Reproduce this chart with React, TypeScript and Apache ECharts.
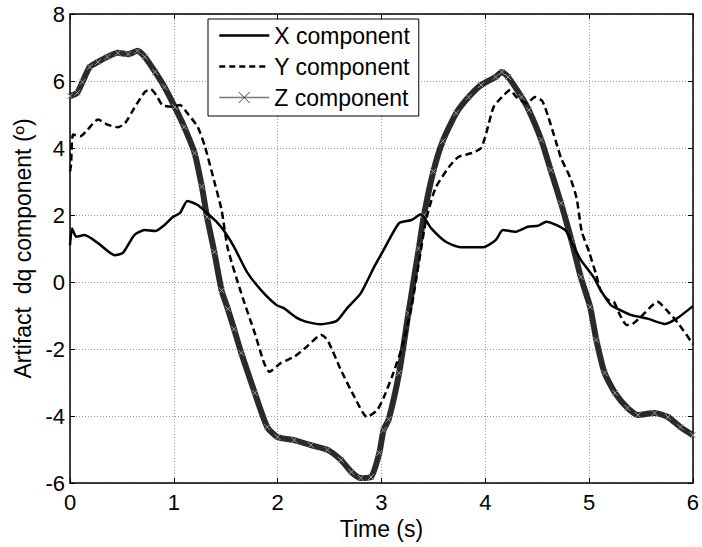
import React, { useEffect, useRef } from "react";
import * as echarts from "echarts";

// X component (solid)
const xTime = [0, 0.02, 0.06, 0.14, 0.27, 0.43, 0.51, 0.62, 0.72, 0.82, 0.91, 0.99, 1.06, 1.13, 1.23, 1.32, 1.41, 1.49, 1.58, 1.71, 1.84, 1.99, 2.06, 2.19, 2.28, 2.42, 2.57, 2.67, 2.8, 2.93, 3.02, 3.17, 3.29, 3.38, 3.48, 3.62, 3.76, 3.98, 4.1, 4.17, 4.29, 4.41, 4.51, 4.59, 4.77, 4.83, 4.92, 5.04, 5.12, 5.21, 5.3, 5.4, 5.57, 5.73, 5.85, 6.0];
const xVals = [1.1, 1.6, 1.35, 1.4, 1.16, 0.8, 0.87, 1.4, 1.55, 1.52, 1.7, 1.94, 2.06, 2.42, 2.3, 2.06, 1.8, 1.5, 1.05, 0.27, -0.24, -0.69, -0.78, -1.08, -1.19, -1.26, -1.16, -0.78, -0.34, 0.45, 0.95, 1.76, 1.85, 2.02, 1.6, 1.2, 1.04, 1.04, 1.25, 1.55, 1.5, 1.65, 1.68, 1.8, 1.55, 1.2, 0.66, 0.16, -0.29, -0.69, -0.84, -0.98, -1.1, -1.25, -1.08, -0.72];

// Y component (dashed)
const yTime = [0, 0.01, 0.03, 0.1, 0.17, 0.27, 0.36, 0.46, 0.53, 0.62, 0.72, 0.78, 0.83, 0.89, 0.98, 1.06, 1.13, 1.23, 1.3, 1.39, 1.46, 1.52, 1.65, 1.78, 1.87, 1.92, 2.03, 2.16, 2.28, 2.42, 2.48, 2.61, 2.74, 2.86, 2.96, 3.02, 3.1, 3.2, 3.29, 3.36, 3.43, 3.52, 3.65, 3.74, 3.87, 3.96, 4.01, 4.08, 4.16, 4.24, 4.3, 4.4, 4.48, 4.55, 4.61, 4.68, 4.73, 4.82, 4.88, 4.93, 5.0, 5.07, 5.11, 5.18, 5.24, 5.3, 5.36, 5.42, 5.5, 5.66, 5.75, 5.85, 6.0];
const yVals = [3.3, 3.5, 4.4, 4.35, 4.55, 4.85, 4.7, 4.62, 4.74, 5.2, 5.67, 5.75, 5.58, 5.28, 5.23, 5.28, 5.04, 4.63, 4.04, 3.0, 2.15, 1.0, -0.34, -1.53, -2.42, -2.68, -2.42, -2.23, -1.93, -1.58, -1.73, -2.63, -3.43, -4.03, -3.82, -3.46, -2.84, -1.93, -0.74, 0.57, 1.85, 2.8, 3.43, 3.73, 3.85, 4.0, 4.45, 5.22, 5.52, 5.73, 5.52, 5.34, 5.52, 5.4, 4.9, 4.2, 3.7, 3.1, 2.5, 1.5, 0.9, 0.2, -0.24, -0.53, -0.6, -1.0, -1.28, -1.25, -1.04, -0.59, -0.85, -1.2, -1.85];

// Z component (x markers)
const zTime = [0, 0.07, 0.12, 0.19, 0.27, 0.36, 0.46, 0.56, 0.65, 0.72, 0.82, 0.91, 1.01, 1.1, 1.2, 1.27, 1.32, 1.39, 1.46, 1.52, 1.58, 1.65, 1.78, 1.9, 2.0, 2.16, 2.32, 2.48, 2.61, 2.71, 2.8, 2.9, 2.98, 3.02, 3.07, 3.17, 3.26, 3.36, 3.41, 3.5, 3.59, 3.72, 3.84, 3.96, 4.1, 4.16, 4.22, 4.35, 4.42, 4.54, 4.63, 4.73, 4.83, 4.92, 5.01, 5.07, 5.15, 5.25, 5.37, 5.47, 5.63, 5.76, 5.88, 6.0];
const zVals = [5.55, 5.65, 5.97, 6.42, 6.57, 6.72, 6.84, 6.8, 6.9, 6.72, 6.27, 5.82, 5.22, 4.63, 3.85, 2.85, 1.94, 0.9, -0.25, -0.8, -1.4, -2.12, -3.31, -4.33, -4.63, -4.72, -4.87, -5.01, -5.31, -5.67, -5.85, -5.82, -5.1, -4.42, -4.1, -2.72, -0.93, 1.0, 2.0, 3.3, 4.2, 5.04, 5.52, 5.88, 6.12, 6.27, 6.12, 5.52, 5.13, 4.24, 3.34, 2.35, 1.25, 0.15, -0.74, -1.73, -2.72, -3.31, -3.76, -3.97, -3.91, -4.03, -4.33, -4.57];

const seriesNames = ["X component", "Y component", "Z component"];
const xLabelName = "Time (s)";
const yLabelName = "Artifact  dq component (º)";

const pair = (t: number[], v: number[]) => t.map((x, i) => [x, v[i]]);

export default function App() {
  const ref = useRef<HTMLDivElement>(null);
  useEffect(() => {
    const chart = echarts.init(ref.current!, null, { renderer: "svg" });
    const font = "'Liberation Sans', Arial, sans-serif";
    const frame = { show: true, onZero: false, lineStyle: { color: "#000", width: 1.5 } };
    const tick = { show: true, inside: true, length: 5, lineStyle: { color: "#000", width: 1 } };
    const grid = { show: true, lineStyle: { color: "#999", type: [1, 2], width: 1 } };
    const crossPath = "path://M0,0L10,10M10,0L0,10";
    const noSymbol = { color: "transparent", borderWidth: 0, opacity: 0 };
    chart.setOption({
      animation: false,
      backgroundColor: "#fff",
      color: ["#333", "#000", "#000"],
      grid: { left: 70, right: 7, top: 14, bottom: 64 },
      xAxis: [
        {
          type: "value", min: 0, max: 6, interval: 1, position: "bottom",
          name: xLabelName, nameLocation: "middle", nameGap: 27,
          nameTextStyle: { color: "#000", fontSize: 23, fontFamily: font },
          axisLine: frame, axisTick: tick,
          axisLabel: { color: "#000", fontSize: 22, fontFamily: font, margin: 8 },
          splitLine: grid,
        },
        {
          type: "value", min: 0, max: 6, interval: 1, position: "top",
          axisLine: frame, axisTick: tick, axisLabel: { show: false }, splitLine: { show: false },
        },
      ],
      yAxis: [
        {
          type: "value", min: -6, max: 8, interval: 2, position: "left",
          name: yLabelName, nameLocation: "middle", nameGap: 34, nameRotate: 90,
          nameTextStyle: { color: "#000", fontSize: 23, fontFamily: font },
          axisLine: frame, axisTick: tick,
          axisLabel: { color: "#000", fontSize: 22, fontFamily: font, margin: 5 },
          splitLine: grid,
        },
        {
          type: "value", min: -6, max: 8, interval: 2, position: "right",
          axisLine: frame, axisTick: tick, axisLabel: { show: false }, splitLine: { show: false },
        },
      ],
      legend: {
        orient: "vertical", left: 208, top: 19,
        backgroundColor: "#fff", borderColor: "#000", borderWidth: 1, borderRadius: 0,
        padding: [5, 9, 7, 10],
        itemWidth: 50, itemHeight: 14, itemGap: 8, itemTextGap: 6,
        textStyle: { color: "#000", fontSize: 23, fontFamily: font, lineHeight: 23 },
        data: [
          { name: seriesNames[0], itemStyle: noSymbol, lineStyle: { color: "#000", width: 2.5 } },
          { name: seriesNames[1], itemStyle: noSymbol, lineStyle: { color: "#000", width: 2.5, type: [6, 4] } },
          {
            name: seriesNames[2],
            lineStyle: { color: "#777", width: 1.5 },
            itemStyle: { color: "none", borderColor: "#444", borderWidth: 1 },
          },
        ],
      },
      series: [
        {
          name: seriesNames[2], type: "line", data: pair(zTime, zVals), smooth: 0.2,
          symbol: crossPath, symbolSize: 6, showSymbol: true,
          lineStyle: { color: "#2a2a2a", width: 6 },
          itemStyle: { color: "none", borderColor: "#999", borderWidth: 1 },
          z: 2,
        },
        {
          name: seriesNames[1], type: "line", data: pair(yTime, yVals), smooth: 0.2,
          symbol: "none", lineStyle: { color: "#000", width: 2.5, type: [7, 4] }, z: 3,
        },
        {
          name: seriesNames[0], type: "line", data: pair(xTime, xVals), smooth: 0.2,
          symbol: "none", lineStyle: { color: "#000", width: 2.5 }, z: 4,
        },
      ],
    });
    return () => chart.dispose();
  }, []);
  return (
    <div
      ref={ref}
      style={{ position: "absolute", left: 0, top: 0, width: 702, height: 547, background: "#fff" }}
    />
  );
}
